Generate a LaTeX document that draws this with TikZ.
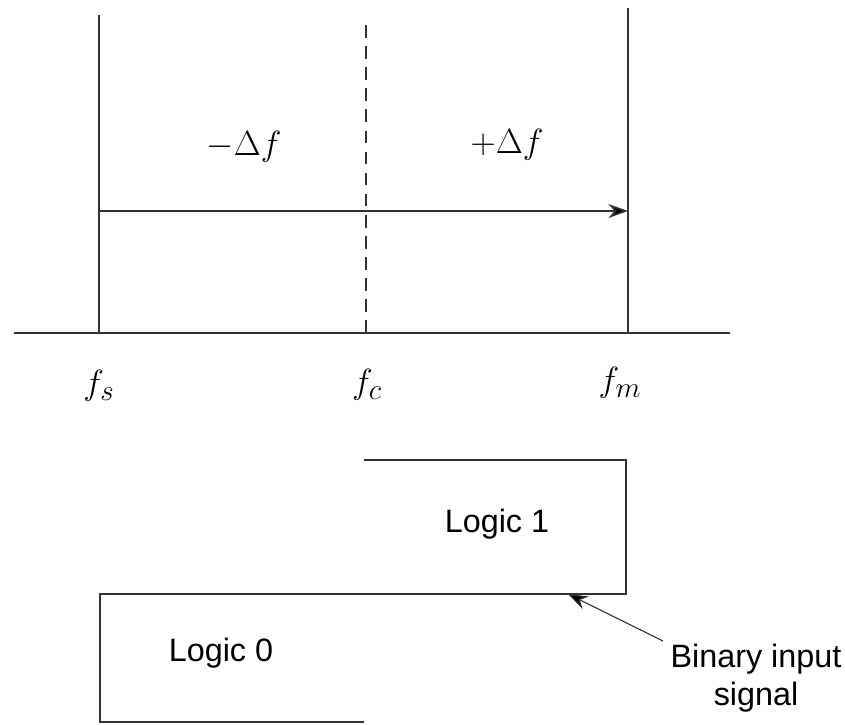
\documentclass[tikz,border=0pt]{standalone}
\usepackage{fontspec}
\newfontfamily\lblfont{Liberation Sans}
\usepackage{tikz}
\usetikzlibrary{arrows.meta, positioning, calc}
\definecolor{inkgray}{HTML}{333333}

\begin{document}
\begin{tikzpicture}[x=0.025cm, y=-0.025cm,
  line/.style={draw=inkgray, line width=1.1pt},
  dashline/.style={line, dash pattern=on 9pt off 6pt},
  arr/.style={line, -{Stealth[length=14pt, width=10pt, fill=black]}},
  freq/.style={font=\fontsize{28}{32}\selectfont},
  dev/.style={font=\fontsize{24}{28}\selectfont},
  lbl/.style={font=\lblfont\fontsize{23}{27}\selectfont, align=center}
]
  \useasboundingbox (0,0) rectangle (845,724);

  % Spectrum
  \coordinate (axL) at (14,333);
  \coordinate (axR) at (730,333);
  \coordinate (s0) at (99,333);  \coordinate (s1) at (99,15);
  \coordinate (c0) at (366,333); \coordinate (c1) at (366,20);
  \coordinate (m0) at (628,333); \coordinate (m1) at (628,8);
  \coordinate (sw) at (99,211);  \coordinate (mw) at (628,211);

  \draw[line] (axL) -- (axR);
  \draw[line] (s0) -- (s1);
  \draw[dashline] (c0) -- (c1);
  \draw[line] (m0) -- (m1);
  \draw[arr] (sw) -- (mw);

  \node[dev] (minus) at (244,147) {$-\Delta f$};
  \node[dev] (plus) at (507,145) {$+\Delta f$};

  \node[freq] (fs) at (99,386) {$f_s$};
  \node[freq] (fc) at (367,385) {$f_c$};
  \node[freq] (fm) at (620,383) {$f_m$};

  % Binary input
  \coordinate (w0) at (364,460);
  \coordinate (w1) at (626,460);
  \coordinate (w2) at (626,594);
  \coordinate (w3) at (100,594);
  \coordinate (w4) at (100,722);
  \coordinate (w5) at (364,722);
  \draw[line] (w0) -- (w1) -- (w2) -- (w3) -- (w4) -- (w5);

  \node[lbl] (one) at (497,524) {Logic 1};
  \node[lbl] (zero) at (221,653) {Logic 0};
  \node[lbl] (sig) at (756,678) {Binary input\\signal};
  \coordinate (tip) at (568,594);
  \coordinate (tail) at (663,641);
  \draw[arr, line width=0.8pt] (tail) -- (tip);
\end{tikzpicture}
\end{document}
